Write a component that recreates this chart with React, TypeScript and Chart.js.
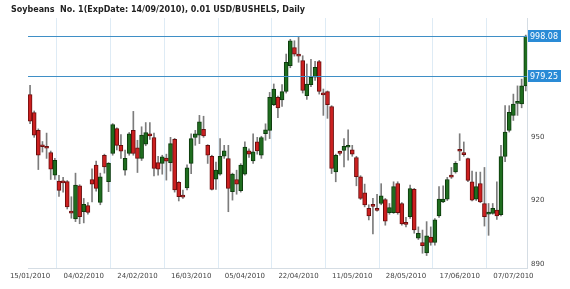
import React, { useEffect, useRef } from "react";
import { Chart, registerables } from "chart.js";

Chart.register(...registerables);

const title = "Soybeans  No. 1(ExpDate: 14/09/2010), 0.01 USD/BUSHELS, Daily";
const xTickLabels = [
  "15/01/2010", "04/02/2010", "24/02/2010", "16/03/2010", "05/04/2010",
  "22/04/2010", "11/05/2010", "28/05/2010", "17/06/2010", "07/07/2010",
];
const barsPerTick = 13;
const yTickValues = [890, 920, 950];
const levels = [998.08, 979.25];

const opens = [
  970.3, 961.7, 953.3, 946, 945.3, 942.8, 932, 929.2, 928.8, 929,
  914.4, 911.3, 927, 914.7, 917.6, 930, 936.8, 919.1, 941.5, 928.9,
  942.3, 954.1, 946.2, 934.4, 942.3, 953.3, 945, 940, 946.7, 951.7,
  949.9, 938, 937.6, 940.2, 938, 949, 928.6, 922, 926, 937.6,
  949.9, 951, 953.8, 946.2, 941, 930.2, 932.5, 941, 939.9, 924.2,
  930, 924.7, 932.5, 943.6, 938.8, 947.8, 941.5, 951.7, 953.3, 965.5,
  969, 967.7, 971.8, 984, 992.6, 988.9, 986.4, 969.8, 975, 978.5,
  985.9, 970.5, 971.7, 964.6, 933.6, 942.8, 943.8, 945.3, 944.1, 940.4,
  931.3, 923.7, 916.3, 917.6, 915.7, 918.6, 920.5, 914.3, 914.3, 928.1,
  918.6, 909.1, 912.4, 925.3, 902.2, 900.1, 895.1, 902.7, 900.1, 912.7,
  919.4, 920.7, 931.5, 933.6, 943.8, 942.2, 939.9, 928.9, 920.6, 928.1,
  918.6, 913.5, 913.9, 915.5, 913.3, 940.9, 953.3, 960.4, 966.1, 965.8,
  974.4,
];
const closes = [
  957.7, 951, 941.5, 945.5, 944.8, 934.9, 939.1, 924.8, 928.4, 917,
  914, 927.3, 912.4, 918.2, 914.4, 927.8, 925.8, 931.3, 936, 937.6,
  956, 946.2, 943.4, 940, 951.7, 942.3, 940, 951, 952.2, 950.6,
  935.2, 934.9, 940.7, 938.7, 947, 925, 921.8, 921.6, 935.5, 949.4,
  951.7, 957.3, 950.6, 941.5, 925.3, 934.4, 941, 943.6, 925.7, 932.5,
  927.8, 936.8, 945.4, 942, 943.1, 943.6, 949.9, 953.6, 969, 972.9,
  964, 971.7, 985.6, 995.8, 989.5, 988.5, 972.2, 975.3, 978.5, 983.2,
  971.8, 970.1, 965.5, 935.2, 941.5, 942.4, 945.7, 945.9, 942, 931.3,
  921, 917.9, 912.7, 917.2, 915.3, 922.2, 910.2, 916.7, 926.6, 914.3,
  908.9, 908.7, 925.7, 906.1, 904.5, 898.6, 903.3, 900.1, 910.9, 920.7,
  920.7, 930, 931.1, 937.6, 943.4, 941.8, 929.6, 920.2, 926.6, 919.4,
  912.4, 914.5, 916.3, 912.7, 940.9, 952.5, 961.9, 965.8, 966.5, 974.4,
  998.08,
];
const highs = [
  974.6, 962.5, 954, 948, 952, 943.5, 940, 932, 931, 929.5,
  921.8, 933, 927.5, 921, 919, 935, 938.7, 933, 942, 938,
  956.5, 954.5, 951.3, 943.9, 952.3, 962.3, 948.6, 955, 957, 957,
  952, 941, 941.5, 942, 950, 949.5, 929, 925, 937, 951.7,
  953.3, 960.4, 960, 946.5, 941.5, 938.3, 949.4, 946.2, 946.2, 933,
  934.4, 937.5, 947.8, 944.5, 951.7, 950, 950.5, 956.4, 971.3, 975.3,
  969.5, 975, 989.5, 996.5, 995.8, 997.4, 988.7, 984.8, 987, 986,
  986.5, 972.9, 972, 965, 942, 943.5, 949.4, 953.6, 946.2, 941,
  931.8, 927.8, 918, 921, 923, 928, 921, 918.6, 928.9, 928.9,
  919, 912, 927.3, 925.8, 907.5, 906, 910, 907.5, 911.5, 926.6,
  927, 931, 935.7, 938.5, 951.7, 947.8, 940.2, 934, 933.5, 933.5,
  935.7, 918.6, 918.6, 928.9, 946.2, 965, 965, 970.5, 974.4, 977.6,
  998.5,
];
const lows = [
  956.5, 950, 934.7, 943, 940, 930, 930, 922, 924, 916,
  911.6, 910, 909, 909.4, 913.5, 919.4, 924.5, 918, 933, 924.2,
  941.5, 944, 940, 932, 941.5, 941.5, 933.3, 939, 946, 949,
  931.7, 932, 932.5, 929.7, 934, 924, 919.8, 921, 925, 932.8,
  946.2, 947, 950, 937.6, 925, 925.3, 932, 940, 914.7, 920.2,
  923, 924, 932, 940.5, 937.6, 942, 940, 948.6, 949.4, 965,
  959.3, 964.6, 971, 983, 988.5, 985.6, 971, 968, 974, 977,
  970.5, 960.4, 959, 932.8, 928.9, 941.5, 936, 939.1, 941, 927,
  920.5, 917, 910.8, 904.2, 915, 918, 908.3, 913.5, 913.9, 913.5,
  908.3, 907.5, 911.5, 904.5, 901.5, 895, 893.9, 898.8, 898.8, 912,
  919, 920, 930.5, 933, 939, 941, 929, 919.8, 920, 919,
  907.9, 903.5, 913.5, 911, 912.7, 938.5, 952.5, 958, 960.4, 964,
  972,
];

const FONT = "'DejaVu Sans', Verdana, sans-serif";
const UP_FILL = "#1f6d1f";
const UP_BORDER = "#0c3b0c";
const DOWN_FILL = "#cc2020";
const DOWN_BORDER = "#6a0d0d";
const WICK = "#7c7c7c";
const LEVEL_LINE = "#3f8fc6";
const LEVEL_BOX = "#2a8bd6";

const overlayPlugin = {
  id: "overlay",
  afterDatasetsDraw(chart: any) {
    const ctx = chart.ctx;
    const { left, right } = chart.chartArea;
    const yScale = chart.scales.y;
    ctx.save();
    levels.forEach((v) => {
      const y = Math.round(yScale.getPixelForValue(v)) + 0.5;
      ctx.strokeStyle = LEVEL_LINE;
      ctx.lineWidth = 1;
      ctx.beginPath();
      ctx.moveTo(left, y);
      ctx.lineTo(right, y);
      ctx.stroke();
      ctx.fillStyle = LEVEL_BOX;
      ctx.fillRect(right + 1, y - 6.5, 33, 12);
      ctx.fillStyle = "#ffffff";
      ctx.font = `8px ${FONT}`;
      ctx.textBaseline = "middle";
      ctx.textAlign = "left";
      ctx.fillText(v.toFixed(2), right + 3, y);
    });
    ctx.restore();
  },
  afterDraw(chart: any) {
    const ctx = chart.ctx;
    ctx.save();
    ctx.fillStyle = "#222222";
    ctx.font = `bold 8px ${FONT}`;
    ctx.textBaseline = "middle";
    ctx.textAlign = "left";
    ctx.fillText(title, 11, 10);
    ctx.restore();
  },
};

export default function App() {
  const ref = useRef<HTMLCanvasElement>(null);
  useEffect(() => {
    document.body.style.margin = "0";
    const canvas = ref.current!;
    const up = opens.map((o, i) => closes[i] >= o);
    const chart = new Chart(canvas, {
      type: "bar",
      data: {
        datasets: [
          {
            label: "wick",
            data: highs.map((h, i) => ({ x: i, y: [lows[i], h] })) as any,
            backgroundColor: WICK,
            borderWidth: 0,
            barThickness: 1,
            grouped: false,
            order: 2,
          } as any,
          {
            label: "body",
            data: opens.map((o, i) => ({ x: i, y: [o, closes[i]] })) as any,
            backgroundColor: up.map((u) => (u ? UP_FILL : DOWN_FILL)),
            borderColor: up.map((u) => (u ? UP_BORDER : DOWN_BORDER)),
            borderWidth: 1,
            borderSkipped: false,
            barThickness: 4,
            minBarLength: 2,
            grouped: false,
            order: 1,
          } as any,
        ],
      },
      options: {
        animation: false,
        responsive: false,
        devicePixelRatio: 1,
        layout: { padding: { top: 18, left: 28, right: 0, bottom: 0 } },
        plugins: { legend: { display: false }, tooltip: { enabled: false }, title: { display: false } },
        scales: {
          x: {
            type: "linear",
            offset: false,
            min: -0.5,
            max: 120.3,
            afterBuildTicks(scale: any) {
              scale.ticks = xTickLabels.map((_, i) => ({ value: i * barsPerTick }));
            },
            afterFit(scale: any) {
              scale.height = 21;
            },
            grid: { display: true, color: "#deebf5", drawTicks: false, lineWidth: 1 },
            border: { display: true, color: "#d5dde4" },
            ticks: {
              padding: 4,
              maxRotation: 0,
              autoSkip: false,
              color: "#444444",
              font: { family: FONT, size: 7 },
              callback: (v: any) => xTickLabels[Math.round(Number(v) / barsPerTick)] ?? "",
            },
          },
          y: {
            type: "linear",
            position: "right",
            min: 888,
            max: 1006.6,
            afterBuildTicks(scale: any) {
              scale.ticks = yTickValues.map((v) => ({ value: v }));
            },
            afterFit(scale: any) {
              scale.width = 43;
            },
            grid: { display: false, drawTicks: false },
            border: { display: true, color: "#d5dde4" },
            ticks: {
              padding: 4,
              color: "#444444",
              font: { family: FONT, size: 7 },
              callback: (v: any) => String(v),
            },
          },
        },
      },
      plugins: [overlayPlugin],
    });
    return () => chart.destroy();
  }, []);
  return <canvas ref={ref} width={570} height={289} style={{ display: "block" }} />;
}
